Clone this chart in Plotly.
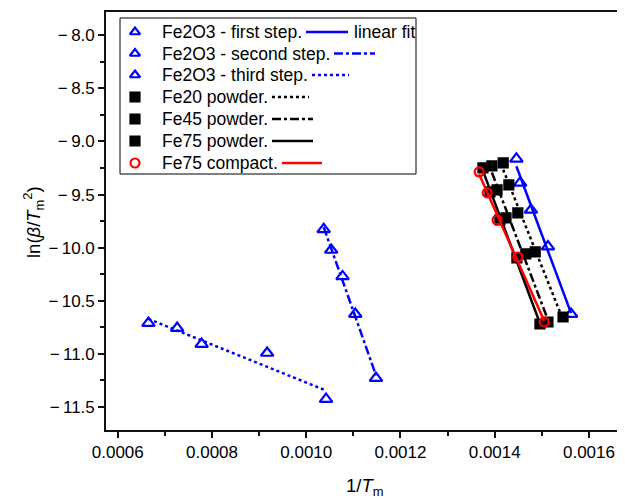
import numpy as np
import plotly.graph_objects as go

# ---------------- data ----------------
first_x = [0.001446, 0.001454, 0.001477, 0.001513, 0.001562]
first_y = [-9.164, -9.390, -9.645, -9.990, -10.625]

second_x = [0.001037, 0.001053, 0.001077, 0.001104, 0.001148]
second_y = [-9.828, -10.022, -10.271, -10.625, -11.228]

third_x = [0.000665, 0.000726, 0.000778, 0.000917, 0.001042]
third_y = [-10.710, -10.757, -10.908, -10.992, -11.426]

fe20_x = [0.001418, 0.001430, 0.001449, 0.001486, 0.001545]
fe20_y = [-9.202, -9.409, -9.673, -10.040, -10.653]

fe45_x = [0.001394, 0.001405, 0.001424, 0.001466, 0.001513]
fe45_y = [-9.230, -9.456, -9.720, -10.059, -10.700]

fe75p_x = [0.001375, 0.001390, 0.001411, 0.001447, 0.001496]
fe75p_y = [-9.249, -9.475, -9.739, -10.097, -10.719]

fe75c_x = [0.001367, 0.001384, 0.001405, 0.001449, 0.001505]
fe75c_y = [-9.287, -9.484, -9.739, -10.088, -10.700]

legend_labels = ["Fe2O3 - first step.", "Fe2O3 - second step.", "Fe2O3 - third step.",
                 "Fe20 powder.", "Fe45 powder.", "Fe75 powder.", "Fe75 compact."]

x_ticks = [0.0006, 0.0008, 0.0010, 0.0012, 0.0014, 0.0016]
y_ticks = [-8.0, -8.5, -9.0, -9.5, -10.0, -10.5, -11.0, -11.5]

# ---------------- styles ----------------
BLUE = "#0000FF"
BLACK = "#000000"
RED = "#FF0000"
AXC = "#111111"
FONT = "Liberation Sans, Arial, sans-serif"

series = [
    (first_x, first_y, "triangle-up-open", BLUE, "solid"),
    (second_x, second_y, "triangle-up-open", BLUE, "dashdot"),
    (third_x, third_y, "triangle-up-open", BLUE, "dot"),
    (fe20_x, fe20_y, "square", BLACK, "dot"),
    (fe45_x, fe45_y, "square", BLACK, "dashdot"),
    (fe75p_x, fe75p_y, "square", BLACK, "solid"),
    (fe75c_x, fe75c_y, "circle-open", RED, "solid"),
]

# the page body has an 8px margin; compensate so the screenshot matches
OFF = 8
W, H = 625 - OFF, 499 - OFF
ML, MR, MT, MB = 106 - OFF, 0, 12 - OFF, 69


def fx(px):
    return (px - OFF - ML) / (W - ML - MR)


def fy(py):
    return (H - MB - (py - OFF)) / (H - MT - MB)


fig = go.Figure()

for xs, ys, sym, col, dash in series:
    xs_a = np.array(xs)
    ys_a = np.array(ys)
    k, b = np.polyfit(xs_a, ys_a, 1)
    fit_x = np.array([xs_a.min(), xs_a.max()])
    fig.add_trace(go.Scatter(x=fit_x, y=k * fit_x + b, mode="lines",
                             line=dict(color=col, width=2.5, dash=dash),
                             showlegend=False, hoverinfo="skip"))
    msize = 11 if "triangle" in sym else 9
    fig.add_trace(go.Scatter(x=xs, y=ys, mode="markers",
                             marker=dict(symbol=sym, size=msize, color=col,
                                         line=dict(color=col, width=2.2)),
                             showlegend=False))

# ---------------- manual legend (Origin style) ----------------
row_py = [32, 53.5, 75, 97, 119, 141, 163]
sample_px = [(306, 348), (334, 375), (312, 349), (272, 309), (272, 313), (272, 313), (282, 322)]
marker_px = 135
text_px = 160

shapes = [dict(type="rect", xref="paper", yref="paper",
               x0=fx(120), x1=fx(416), y0=fy(174), y1=fy(18),
               line=dict(color=BLACK, width=1), fillcolor="rgba(0,0,0,0)", layer="above")]
annotations = []
leg_mx, leg_my, leg_sym, leg_col = [], [], [], []
for i, (lab, (xs, ys, sym, col, dash)) in enumerate(zip(legend_labels, series)):
    py = row_py[i]
    annotations.append(dict(xref="paper", yref="paper", x=fx(text_px), y=fy(py),
                            text=lab, showarrow=False, xanchor="left", yanchor="middle",
                            font=dict(family=FONT, size=17.5, color=BLACK)))
    s0, s1 = sample_px[i]
    shapes.append(dict(type="line", xref="paper", yref="paper",
                       x0=fx(s0), x1=fx(s1), y0=fy(py), y1=fy(py),
                       line=dict(color=col, width=2.5, dash=dash), layer="above"))
    leg_mx.append(fx(marker_px))
    leg_my.append(fy(py))
    leg_sym.append(sym)
    leg_col.append(col)

annotations.append(dict(xref="paper", yref="paper", x=fx(352), y=fy(row_py[0]),
                        text="linear fit", showarrow=False, xanchor="left", yanchor="middle",
                        font=dict(family=FONT, size=17.5, color=BLACK)))

fig.add_trace(go.Scatter(x=leg_mx, y=leg_my, mode="markers", xaxis="x2", yaxis="y2",
                         marker=dict(symbol=leg_sym, size=9, color=leg_col,
                                     line=dict(color=leg_col, width=2.2)),
                         showlegend=False, hoverinfo="skip", cliponaxis=False))

# axis titles
annotations.append(dict(xref="paper", yref="paper", x=fx(365), y=fy(487),
                        text="1/<i>T</i><sub>m</sub>", showarrow=False,
                        xanchor="center", yanchor="middle",
                        font=dict(family=FONT, size=18.5, color=BLACK)))
annotations.append(dict(xref="paper", yref="paper", x=fx(33), y=fy(222),
                        text="ln(<i>β</i>/<i>T</i><sub>m</sub><sup>2</sup>)", showarrow=False,
                        textangle=-90, xanchor="center", yanchor="middle",
                        font=dict(family=FONT, size=18.5, color=BLACK)))

fig.update_layout(
    width=W, height=H,
    margin=dict(l=ML, r=MR, t=MT, b=MB, pad=0),
    paper_bgcolor="white", plot_bgcolor="white",
    showlegend=False,
    shapes=shapes, annotations=annotations,
    xaxis=dict(range=[0.000575, 0.0016765], tickvals=x_ticks,
               ticktext=[f"{v:.4f}" for v in x_ticks],
               showgrid=False, zeroline=False,
               showline=True, linecolor=AXC, linewidth=1.6, mirror=True,
               ticks="outside", ticklen=6, tickwidth=1.5, tickcolor=AXC,
               minor=dict(ticks="outside", ticklen=4, tickwidth=1.5, tickcolor=AXC, dtick=0.0001,
                          tick0=0.0006, showgrid=False),
               tickfont=dict(family=FONT, size=17, color=BLACK)),
    yaxis=dict(range=[-11.717, -7.781], tickvals=y_ticks,
               ticktext=["\u2212\u2009" + f"{abs(v):.1f}" for v in y_ticks],
               showgrid=False, zeroline=False,
               showline=True, linecolor=AXC, linewidth=1.6, mirror=False,
               ticks="outside", ticklen=6, tickwidth=1.5, tickcolor=AXC,
               minor=dict(ticks="outside", ticklen=4, tickwidth=1.5, tickcolor=AXC, dtick=0.25,
                          tick0=-8.0, showgrid=False),
               tickfont=dict(family=FONT, size=17, color=BLACK)),
    xaxis2=dict(overlaying="x", range=[0, 1], visible=False, fixedrange=True),
    yaxis2=dict(overlaying="y", range=[0, 1], visible=False, fixedrange=True),
)

fig.write_html("out.html")
